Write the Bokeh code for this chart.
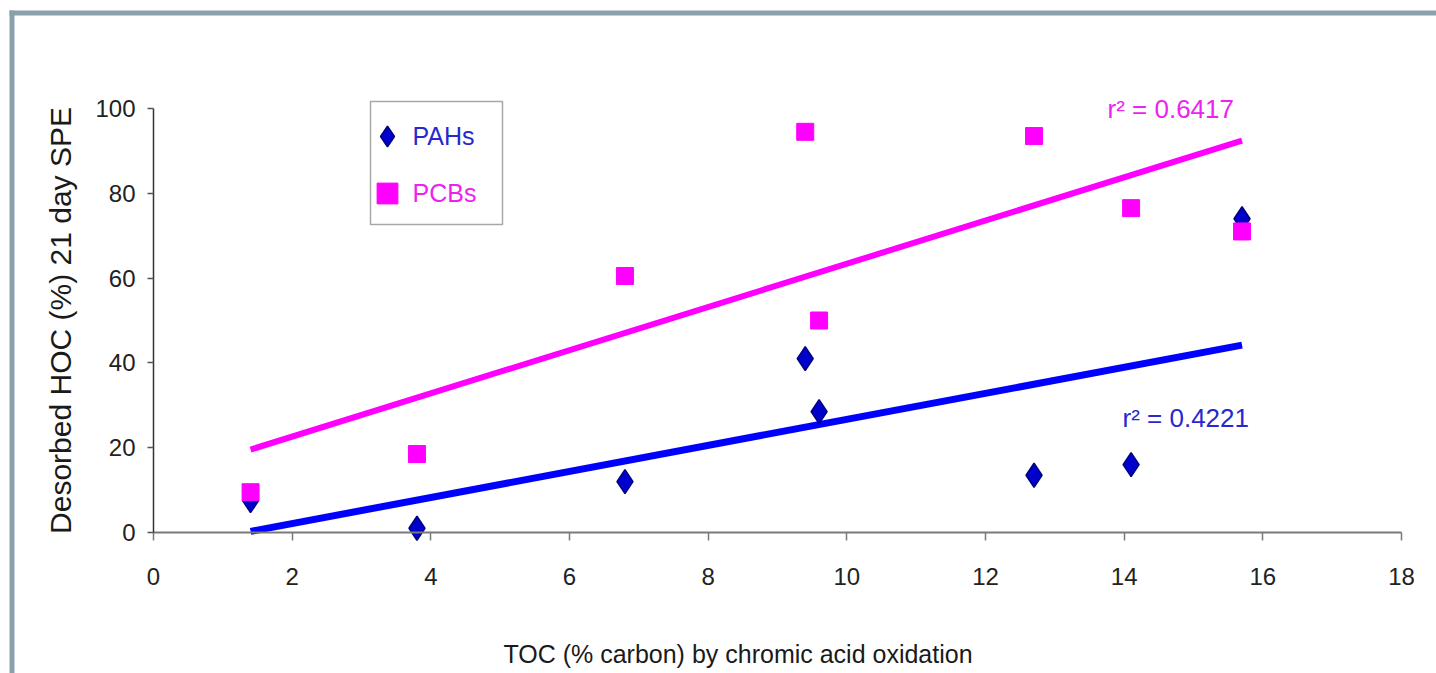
import numpy as np
from bokeh.plotting import figure
from bokeh.models import Range1d, FixedTicker, Label, Legend, LegendItem, BoxAnnotation
from bokeh.embed import file_html
from bokeh.resources import INLINE

# ---------------- data ----------------
toc = [1.4, 3.8, 6.8, 9.4, 9.6, 12.7, 14.1, 15.7]
pahs = [7.5, 1.0, 12.0, 41.0, 28.5, 13.5, 16.0, 74.0]
pcbs = [9.5, 18.5, 60.5, 94.5, 50.0, 93.5, 76.5, 71.0]
x_ticks = [0, 2, 4, 6, 8, 10, 12, 14, 16, 18]
y_ticks = [0, 20, 40, 60, 80, 100]
series_names = ["PAHs", "PCBs"]
r2_pahs = "r\u00b2 = 0.4221"
r2_pcbs = "r\u00b2 = 0.6417"
x_title = "TOC (% carbon) by chromic acid oxidation"
y_title = "Desorbed HOC (%) 21 day SPE"

# ---------------- geometry ----------------
W, H = 1436, 673
X0_PX, PX_X = 153.0, 1248.0 / 18.0   # canvas x of data 0, px per unit
Y0_PX, PX_Y = 532.0, 4.24            # canvas y of data 0, px per unit
X_START = -X0_PX / PX_X
X_END = (W - X0_PX) / PX_X
Y_END = Y0_PX / PX_Y
Y_START = (Y0_PX - H) / PX_Y


def dx(px):
    return X_START + px / PX_X


def dy(py):
    return Y_END - py / PX_Y


FONT = "Liberation Sans"
BLUE = "#0000ff"
MAGENTA = "#ff00ff"
BORDER = "#8aa0ad"

p = figure(width=W, height=H, x_range=Range1d(X_START, X_END), y_range=Range1d(Y_START, Y_END),
           output_backend="svg", toolbar_location=None, title=None, min_border=0)
p.outline_line_color = None
p.grid.visible = False
p.background_fill_color = "white"
p.border_fill_color = "white"

# x axis
xa = p.xaxis[0]
xa.fixed_location = 0
xa.bounds = (0, 18)
xa.ticker = FixedTicker(ticks=x_ticks, minor_ticks=[])
xa.axis_line_color = "#7a7a7a"
xa.axis_line_width = 2
xa.major_tick_line_color = "#7a7a7a"
xa.major_tick_line_width = 1.5
xa.major_tick_in = 0
xa.major_tick_out = 8
xa.minor_tick_line_color = None
xa.major_label_text_font = FONT
xa.major_label_text_font_size = "24px"
xa.major_label_text_color = "#222222"
xa.major_label_standoff = 27

# y axis
ya = p.yaxis[0]
ya.fixed_location = 0
ya.bounds = (0, 100)
ya.ticker = FixedTicker(ticks=y_ticks, minor_ticks=[])
ya.axis_line_color = "#333333"
ya.axis_line_width = 1.5
ya.major_tick_line_color = "#555555"
ya.major_tick_line_width = 1.5
ya.major_tick_in = 0
ya.major_tick_out = 6
ya.minor_tick_line_color = None
ya.major_label_text_font = FONT
ya.major_label_text_font_size = "24px"
ya.major_label_text_color = "#222222"
ya.major_label_standoff = 12
ya.axis_label = y_title
ya.axis_label_text_font = FONT
ya.axis_label_text_font_size = "30px"
ya.axis_label_text_font_style = "normal"
ya.axis_label_text_color = "#1a1a1a"
ya.axis_label_standoff = 15

# trend lines (least squares fits of the data)
tx = np.array([min(toc), max(toc)])
k_pcb = np.polyfit(toc, pcbs, 1)
k_pah = np.polyfit(toc, pahs, 1)
p.line(tx, np.polyval(k_pcb, tx), line_color=MAGENTA, line_width=6)
p.line(tx, np.polyval(k_pah, tx), line_color=BLUE, line_width=7)

pah_r = p.scatter(toc, pahs, marker="diamond", size=24, fill_color="#0000cc",
                  line_color="#000080", line_width=1.5)
pcb_r = p.scatter(toc, pcbs, marker="square", size=17, fill_color=MAGENTA, line_color=MAGENTA)

# frame border of the original figure
p.add_layout(BoxAnnotation(left=dx(9), right=None, top=dy(10), bottom=dy(15), fill_color=BORDER,
                           fill_alpha=1, line_alpha=0, level="annotation"))
p.add_layout(BoxAnnotation(left=dx(9), right=dx(14), top=dy(10), bottom=None, fill_color=BORDER,
                           fill_alpha=1, line_alpha=0, level="annotation"))

# legend box
p.add_layout(BoxAnnotation(left=dx(370), right=dx(502), top=dy(101), bottom=dy(224),
                           fill_color="white", fill_alpha=1, line_color="#a8a8a8",
                           line_width=1.5, line_alpha=1, level="annotation"))

for name, rend, color, cy in [(series_names[0], pah_r, "#2828d0", 136), (series_names[1], pcb_r, "#ee22ee", 193)]:
    lg = Legend(items=[LegendItem(label=name, renderers=[rend])],
                location=(360.5, H - (cy + 26)), glyph_width=52, glyph_height=52,
                label_height=52, label_standoff=-8, padding=0, margin=0,
                border_line_color=None, background_fill_alpha=0,
                label_text_font=FONT, label_text_font_size="25px", label_text_color=color)
    p.add_layout(lg, "center")

# r^2 labels
p.add_layout(Label(x=dx(1107), y=dy(108), text=r2_pcbs, text_font=FONT, text_font_size="26px",
                   text_color="#ee22ee", text_baseline="alphabetic"))
p.add_layout(Label(x=dx(1122), y=dy(417), text=r2_pahs, text_font=FONT, text_font_size="26px",
                   text_color="#2828d0", text_baseline="alphabetic"))

# x title
p.add_layout(Label(x=dx(737.5), y=dy(653), text=x_title, text_font=FONT, text_font_size="25px",
                   text_color="#1a1a1a", text_align="center", text_baseline="alphabetic"))

open("out.html", "w").write(file_html(p, INLINE))
